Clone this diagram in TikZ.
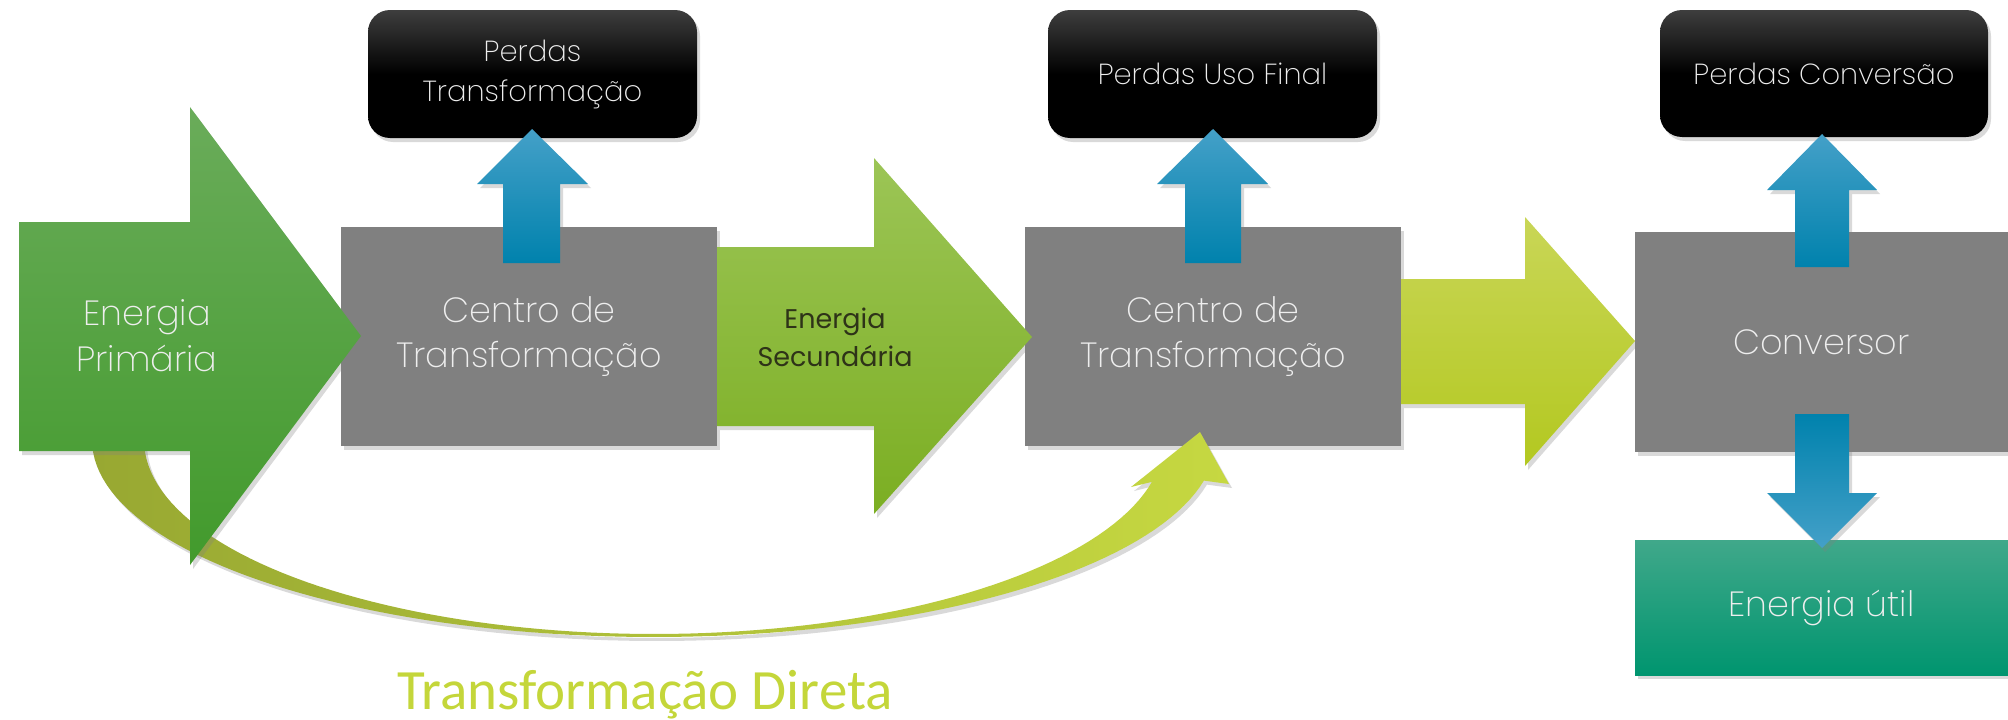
\documentclass[tikz,border=0pt]{standalone}
\usepackage{fontspec}
\usetikzlibrary{shadows}
\IfFontExistsTF{Poppins ExtraLight}{\newfontfamily\thinfont{Poppins ExtraLight}}{%
  \IfFontExistsTF{Poppins Light}{\newfontfamily\thinfont{Poppins Light}}{%
    \IfFontExistsTF{Fira Sans Light}{\newfontfamily\thinfont{Fira Sans Light}}{%
      \newfontfamily\thinfont{Poppins}}}}
\newfontfamily\regfont{Poppins}
\IfFontExistsTF{Carlito Light}{\newfontfamily\dirfont{Carlito Light}}{\newfontfamily\dirfont{Carlito}}
\definecolor{boxgray}{HTML}{808080}
\definecolor{blktop}{HTML}{3E3E3E}
\definecolor{bluetop}{HTML}{44A0C8}
\definecolor{bluebot}{HTML}{0082AD}
\definecolor{g1top}{HTML}{6AAC5A}
\definecolor{g1bot}{HTML}{429A2C}
\definecolor{g2top}{HTML}{9CC556}
\definecolor{g2bot}{HTML}{7BAE22}
\definecolor{g3top}{HTML}{C9D657}
\definecolor{g3bot}{HTML}{B3C820}
\definecolor{utiltop}{HTML}{40A88A}
\definecolor{utilbot}{HTML}{00956F}
\definecolor{olive}{HTML}{98A832}
\definecolor{lime}{HTML}{C6D841}
\definecolor{limetext}{HTML}{C4D63A}
\definecolor{lighttext}{HTML}{EEEEEE}
\definecolor{darktext}{HTML}{2E3318}
\begin{document}
\begin{tikzpicture}[x=1pt,y=-1pt,
  shad/.style={drop shadow={opacity=0.3,shadow xshift=3pt,shadow yshift=-4pt}},
  graybox/.style={fill=boxgray,draw=none,shad,inner sep=0pt,align=center,text=lighttext,
    font=\thinfont\fontsize{35}{45}\selectfont},
  blackbox/.style={top color=blktop,bottom color=black,middle color=black,draw=none,shad,
    rounded corners=22pt,inner sep=0pt,align=center,text=lighttext,
    font=\thinfont\fontsize{29}{40}\selectfont,minimum width=329pt,minimum height=128pt},
  utilbox/.style={top color=utiltop,bottom color=utilbot,draw=none,shad,inner sep=0pt,
    align=center,text=lighttext,font=\thinfont\fontsize{35}{45}\selectfont},
  bluearrow/.style={top color=bluetop,bottom color=bluebot,draw=none,shad},
  bluedown/.style={top color=bluebot,bottom color=bluetop,draw=none,shad},
  greenA/.style={top color=g1top,bottom color=g1bot,draw=none,shad},
  greenB/.style={top color=g2top,bottom color=g2bot,draw=none,shad},
  greenC/.style={top color=g3top,bottom color=g3bot,draw=none,shad},
  curvestyle/.style={left color=olive,right color=lime,draw=none,shad},
  arrowtext/.style={align=center,inner sep=0pt}
]
\useasboundingbox (0,0) rectangle (2008,720);

% loss boxes
\node[blackbox] (p1) at (532.5,74) {Perdas\\Transformação};
\node[blackbox] (p2) at (1212.5,74) {Perdas Uso Final};
\node[blackbox,minimum width=328pt,minimum height=127pt] (p3) at (1824,73.5) {Perdas Conversão};

% grey centres
\node[graybox,minimum width=376pt,minimum height=219pt] (c1) at (529,336.5) {Centro de\\Transformação};
\node[graybox,minimum width=376pt,minimum height=219pt] (c2) at (1213,336.5) {Centro de\\Transformação};
\node[graybox,minimum width=373pt,minimum height=220pt] (c3) at (1821.5,342) {Conversor};

% useful energy
\node[utilbox,minimum width=373pt,minimum height=135pt] (u) at (1821.5,607.5) {Energia útil};

% curved direct-transformation arrow
\path[curvestyle]
  plot[domain=180:11.9,samples=90,variable=\t] ({654+562*cos(\t)},{440+197*sin(\t)})
  -- (1229,484) -- (1200,432) -- (1131,487)
  -- plot[domain=12.45:180,samples=90,variable=\t] ({654+510*cos(\t)},{440+194*sin(\t)})
  -- cycle;

% green block arrows
\path[greenA] (19,222) -- (190,222) -- (190,107) -- (361,336) -- (190,565) -- (190,451) -- (19,451) -- cycle;
\path[greenB] (717,247) -- (874,247) -- (874,158) -- (1032,337) -- (874,514) -- (874,426) -- (717,426) -- cycle;
\path[greenC] (1401,279) -- (1525,279) -- (1525,217) -- (1635,341) -- (1525,466) -- (1525,404) -- (1401,404) -- cycle;

% blue arrows
\path[bluearrow] (503,263) -- (503,184) -- (477,184) -- (532,129) -- (588,184) -- (560,184) -- (560,263) -- cycle;
\path[bluearrow] (1185,263) -- (1185,184) -- (1157,184) -- (1213,129) -- (1268,184) -- (1241,184) -- (1241,263) -- cycle;
\path[bluearrow] (1795,267) -- (1795,190) -- (1767,190) -- (1822,134) -- (1877,190) -- (1849,190) -- (1849,267) -- cycle;
\path[bluedown] (1795,414) -- (1849,414) -- (1849,493) -- (1877,493) -- (1822,548) -- (1767,493) -- (1795,493) -- cycle;

% arrow texts
\node[arrowtext,text=lighttext,font=\thinfont\fontsize{35}{46}\selectfont] (ep) at (147,336) {Energia\\Primária};
\node[arrowtext,text=darktext,font=\regfont\fontsize{27}{38}\selectfont] (es) at (835,337) {Energia\\Secundária};
\node[anchor=base,inner sep=0pt,text=limetext,font=\dirfont\fontsize{57}{60}\selectfont] (td) at (645,709) {Transformação Direta};
\end{tikzpicture}
\end{document}
